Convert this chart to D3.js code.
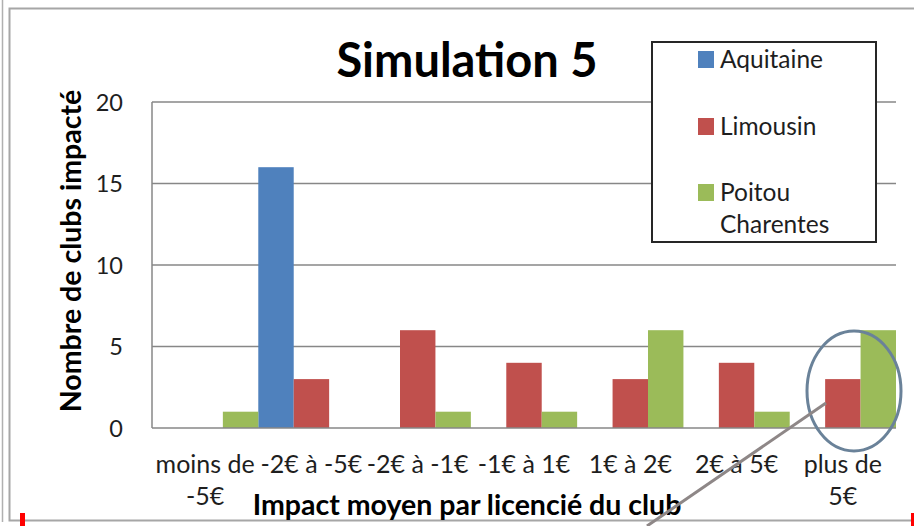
<!DOCTYPE html>
<html><head><meta charset="utf-8">
<script src="https://cdn.jsdelivr.net/npm/d3@7"></script>
<style>
html,body{margin:0;padding:0;background:#fff;}
svg{display:block;font-family:Lato,"Open Sans",sans-serif;}
</style></head>
<body>
<svg id="chart" width="914" height="526"></svg>
<script>
const categories = [["moins de","-5€"],["-2€ à -5€"],["-2€ à -1€"],["-1€ à 1€"],["1€ à 2€"],["2€ à 5€"],["plus de","5€"]];
const seriesNames = ["Aquitaine","Limousin","Poitou Charentes"];
const aquitaine = [0,16,0,0,0,0,0];
const limousin  = [0,3,6,4,3,4,3];
const poitou    = [1,0,1,1,6,1,6];
const yTicks = [0,5,10,15,20];
const colors = ["#4F81BD","#C0504D","#9BBB59"];
const titleText = "Simulation 5";
const xTitle = "Impact moyen par licencié du club";
const yTitle = "Nombre de clubs impacté";

const values = [aquitaine, limousin, poitou];
const svg = d3.select("#chart");

// frames
svg.append("line").attr("x1",2.5).attr("x2",2.5).attr("y1",0).attr("y2",522).attr("stroke","#b0b0b0").attr("stroke-width",1.5);
svg.append("path").attr("d","M914,8.5H9.5V520.5H911").attr("fill","none").attr("stroke","#a6a6a6").attr("stroke-width",2);

const plot = {left:152, right:896, top:102, bottom:428};
const catIdx = d3.range(categories.length);
const x = d3.scaleBand().domain(catIdx).range([plot.left, plot.right]).paddingInner(0).paddingOuter(0);
const xs = d3.scaleBand().domain(d3.range(seriesNames.length)).range([0, x.bandwidth()]).padding(0);
const y = d3.scaleLinear().domain([0,20]).range([plot.bottom, plot.top]);

// gridlines
svg.append("g").selectAll("line").data(yTicks.filter(t=>t>0)).join("line")
  .attr("x1",plot.left).attr("x2",plot.right)
  .attr("y1",d=>y(d)).attr("y2",d=>y(d))
  .attr("stroke","#878787").attr("stroke-width",1.5);

// bars
const g = svg.append("g");
values.forEach((arr, si) => {
  g.append("g").selectAll("rect").data(arr.map((v,i)=>({v,i}))).join("rect")
    .attr("x", d => x(d.i) + xs(si))
    .attr("width", xs.bandwidth())
    .attr("y", d => y(d.v))
    .attr("height", d => y(0) - y(d.v))
    .attr("fill", colors[si]);
});

// axes lines
svg.append("line").attr("x1",plot.left).attr("x2",plot.left).attr("y1",plot.top).attr("y2",plot.bottom).attr("stroke","#878787").attr("stroke-width",1.5);
svg.append("line").attr("x1",plot.left).attr("x2",plot.right).attr("y1",plot.bottom).attr("y2",plot.bottom).attr("stroke","#878787").attr("stroke-width",1.5);

// y tick labels
const yAxis = d3.axisLeft(y).tickValues(yTicks).tickSize(0).tickPadding(0);
const ya = svg.append("g").attr("transform",`translate(123,0)`).call(yAxis);
ya.select(".domain").remove();
ya.selectAll("text").attr("font-size",23.5).attr("fill","#1e1e1e").attr("font-family","Lato").attr("dy","0.35em");

// x tick labels
const xl = svg.append("g");
catIdx.forEach(i => {
  const t = xl.append("text").attr("x", x(i)+x.bandwidth()/2).attr("y",473)
    .attr("text-anchor","middle").attr("font-size",25).attr("fill","#1e1e1e");
  categories[i].forEach((line,j)=>{
    t.append("tspan").attr("x", x(i)+x.bandwidth()/2).attr("y",473+j*32).text(line);
  });
});

// title
svg.append("text").attr("x",467).attr("y",77).attr("text-anchor","middle")
  .attr("font-size",47).attr("font-weight","bold").attr("fill","#000").text(titleText);

// axis titles
svg.append("text").attr("x",467).attr("y",515).attr("text-anchor","middle")
  .attr("font-size",28.5).attr("font-weight","bold").attr("fill","#000").text(xTitle);
svg.append("text").attr("transform","translate(81,251) rotate(-90)").attr("text-anchor","middle")
  .attr("font-size",28.5).attr("font-weight","bold").attr("fill","#000").text(yTitle);

// legend
svg.append("rect").attr("x",652).attr("y",42).attr("width",224).attr("height",200)
  .attr("fill","#fff").attr("stroke","#262626").attr("stroke-width",2);
const legendRows = [
  {lines:["Aquitaine"], base:68},
  {lines:["Limousin"], base:135},
  {lines:["Poitou","Charentes"], base:201}
];
legendRows.forEach((r,si)=>{
  svg.append("rect").attr("x",698).attr("y",r.base-17).attr("width",16).attr("height",17).attr("fill",colors[si]);
  const t = svg.append("text").attr("font-size",24.5).attr("fill","#1e1e1e");
  r.lines.forEach((ln,j)=>t.append("tspan").attr("x",720).attr("y",r.base+j*32).text(ln));
});

// annotation: ellipse and pointer line
svg.append("ellipse").attr("cx",854).attr("cy",391).attr("rx",47).attr("ry",60)
  .attr("fill","none").attr("stroke","#6a8299").attr("stroke-width",3);
svg.append("line").attr("x1",826).attr("y1",403).attr("x2",647).attr("y2",526)
  .attr("stroke","#8e8787").attr("stroke-width",3);

// red marks
svg.append("rect").attr("x",20).attr("y",513).attr("width",5).attr("height",13).attr("fill","#ff0000");
svg.append("rect").attr("x",911).attr("y",513).attr("width",3).attr("height",13).attr("fill","#ff0000");
</script>
</body></html>
